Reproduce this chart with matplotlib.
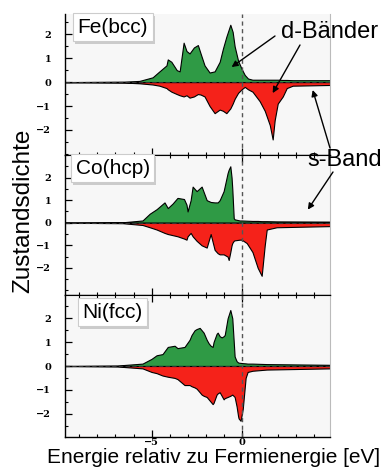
import numpy as np
import matplotlib
matplotlib.use("Agg")
import matplotlib.pyplot as plt
from matplotlib.patches import Rectangle
from matplotlib.transforms import IdentityTransform
from matplotlib.ticker import MultipleLocator

plt.rcParams['font.family'] = ['Liberation Sans', 'DejaVu Sans']

# Zustandsdichte (spin up = gruen, spin down = rot), Energie in eV
feE = [-9.8, -6.5, -5.67, -4.94, -4.56, -4.17, -4.1, -3.9, -3.6, -3.44, -3.22, -3.06, -2.89,
       -2.65, -2.43, -2.28, -2.06, -1.78, -1.5, -1.22, -1.04, -0.85, -0.63, -0.5, -0.39,
       -0.2, 0.0, 0.17, 0.35, 0.6, 1.0, 1.28, 1.56, 1.72, 1.83, 2.0, 2.28, 2.5, 2.83, 4.9]
feUp = [0.0, 0.02, 0.05, 0.2, 0.45, 0.7, 0.95, 0.85, 0.5, 0.45, 1.65, 1.3, 1.2,
        1.45, 1.55, 1.2, 0.7, 0.4, 0.45, 0.85, 1.4, 1.9, 2.4, 2.1, 1.5,
        0.9, 0.55, 0.3, 0.15, 0.1, 0.1, 0.1, 0.1, 0.1, 0.1, 0.1, 0.09, 0.09, 0.08, 0.08]
feDn = [0.0, -0.02, -0.05, -0.1, -0.15, -0.25, -0.3, -0.4, -0.5, -0.55, -0.6, -0.55, -0.65,
        -0.6, -0.5, -0.52, -0.6, -1.0, -1.3, -1.15, -1.2, -1.3, -1.1, -0.9, -0.7,
        -0.45, -0.3, -0.2, -0.3, -0.4, -0.8, -1.2, -1.8, -2.4, -1.6, -0.9, -0.6, -0.25, -0.15, -0.12]

coE = [-9.8, -6.6, -5.5, -5.1, -4.72, -4.28, -4.1, -3.83, -3.56, -3.2, -3.06, -3.0, -2.83,
       -2.72, -2.5, -2.22, -1.94, -1.72, -1.5, -1.33, -1.22, -1.0, -0.78, -0.72, -0.63,
       -0.56, -0.52, -0.44, -0.39, -0.11, 0.0, 0.28, 0.6, 0.89, 1.11, 1.28, 1.39, 1.94, 4.9]
coUp = [0.0, 0.02, 0.1, 0.4, 0.6, 0.9, 0.65, 0.85, 1.1, 1.05, 0.8, 0.5, 1.0,
        1.6, 1.4, 1.6, 1.0, 0.92, 0.9, 0.9, 1.0, 1.4, 2.2, 2.35, 2.5,
        2.0, 1.5, 0.2, 0.15, 0.1, 0.1, 0.09, 0.08, 0.08, 0.07, 0.07, 0.07, 0.06, 0.05]
coDn = [0.0, -0.02, -0.1, -0.2, -0.3, -0.45, -0.5, -0.55, -0.6, -0.7, -0.75, -0.6, -0.45,
        -0.6, -0.8, -1.0, -1.1, -0.5, -1.2, -1.35, -1.4, -1.4, -1.5, -1.65, -1.3,
        -1.0, -0.9, -0.8, -0.78, -0.75, -0.75, -0.9, -1.3, -2.0, -2.35, -1.0, -0.3, -0.2, -0.15]

niE = [-9.8, -6.9, -5.5, -5.0, -4.72, -4.39, -4.1, -3.72, -3.56, -3.17, -2.89, -2.78, -2.61,
       -2.5, -2.33, -2.22, -2.11, -1.94, -1.83, -1.72, -1.61, -1.56, -1.39, -1.33, -1.22,
       -1.11, -1.0, -0.94, -0.78, -0.63, -0.52, -0.39, -0.28, -0.2, -0.17, -0.06, 0.06,
       0.22, 0.33, 0.6, 1.39, 4.9]
niUp = [0.0, 0.02, 0.1, 0.3, 0.45, 0.5, 0.8, 0.85, 0.75, 0.8, 1.1, 1.3, 1.5,
        1.55, 1.6, 1.5, 1.4, 1.1, 0.95, 0.85, 0.8, 1.0, 1.35, 1.4, 1.25,
        1.2, 1.25, 1.3, 2.0, 2.35, 2.0, 0.4, 0.2, 0.15, 0.14, 0.13, 0.12,
        0.11, 0.1, 0.1, 0.08, 0.05]
niDn = [0.0, -0.02, -0.1, -0.25, -0.3, -0.4, -0.45, -0.5, -0.55, -0.8, -0.8, -0.85, -0.9,
        -0.95, -1.1, -1.2, -1.25, -1.3, -1.4, -1.5, -1.6, -1.55, -1.2, -1.15, -1.1,
        -1.25, -1.4, -1.35, -1.3, -1.25, -1.2, -1.3, -1.7, -2.1, -2.2, -2.3, -1.8,
        -0.5, -0.25, -0.2, -0.15, -0.1]

metals = ["Fe(bcc)", "Co(hcp)", "Ni(fcc)"]
energies = [feE, coE, niE]
spinUp = [feUp, coUp, niUp]
spinDown = [feDn, coDn, niDn]

green = '#2f9a45'
red = '#f5221a'

W, H = 383, 468
fig = plt.figure(figsize=(W/100, H/100), dpi=100)

# panel boundaries in pixels (top, bottom)
left, right = 65, 330
panels = [(14, 155), (155, 295), (295, 437)]
ylims = [(-3.05, 2.85), (-3.2, 3.0), (-2.98, 2.98)]
labelY = [0.905, 0.905, 0.88]

axs = []
nameTags = []
for i, (top, bot) in enumerate(panels):
    ax = fig.add_axes([left/W, 1 - bot/H, (right-left)/W, (bot-top)/H])
    ax.set_facecolor('#f7f7f7')
    E = np.array(energies[i])
    ax.fill_between(E, 0, spinUp[i], facecolor=green, edgecolor='black', linewidth=0.8)
    ax.fill_between(E, 0, spinDown[i], facecolor=red, edgecolor='black', linewidth=0.8)
    ax.axhline(0, color='#333333', linewidth=0.8, linestyle=(0, (4, 2)))
    ax.axvline(0, color='#555555', linewidth=1.0, linestyle=(0, (3, 2.5)))
    ax.set_xlim(-9.8, 4.9)
    ax.set_ylim(*ylims[i])
    ax.yaxis.set_minor_locator(MultipleLocator(0.5))
    ax.xaxis.set_major_locator(MultipleLocator(5))
    ax.xaxis.set_minor_locator(MultipleLocator(1))
    ax.set_yticks([-2, -1, 0, 1, 2])
    ax.tick_params(which='both', direction='in', top=True, labelsize=7)
    ax.tick_params(axis='y', pad=10)
    ax.tick_params(axis='x', pad=1)
    ax.tick_params(which='major', length=5, width=0.9)
    ax.tick_params(which='minor', length=2.5, width=0.8)
    ax.spines['right'].set_color('#bbbbbb')
    ax.spines['left'].set_linewidth(1.0)
    ax.spines['bottom'].set_linewidth(1.0)
    if i == 0:
        ax.spines['top'].set_visible(False)
        ax.tick_params(which='both', top=False)
    if i < 2:
        ax.tick_params(labelbottom=False)
    for lab in ax.get_yticklabels() + ax.get_xticklabels():
        lab.set_fontfamily('DejaVu Serif')
        lab.set_fontweight('bold')
    t = ax.text(0.18, labelY[i], metals[i], transform=ax.transAxes, fontsize=15,
                ha='center', va='center', zorder=10,
                bbox=dict(boxstyle='square,pad=0.22', facecolor='white',
                          edgecolor='#cccccc', linewidth=0.8))
    nameTags.append(t)
    axs.append(ax)

# Schatten unter den Namensschildern
fig.canvas.draw()
renderer = fig.canvas.get_renderer()
for ax, t in zip(axs, nameTags):
    bb = t.get_bbox_patch().get_window_extent(renderer)
    ax.add_patch(Rectangle((bb.x0 + 2, bb.y0 - 3), bb.width, bb.height,
                           transform=IdentityTransform(), facecolor='#8a8a8a',
                           alpha=0.4, edgecolor='none', zorder=9, clip_on=False))

fig.text(23/W, 1 - 211/H, "Zustandsdichte", rotation=90, fontsize=17.5,
         ha='center', va='center')
fig.text(214/W, 1 - 463/H, "Energie relativ zu Fermienergie [eV]", fontsize=15,
         ha='center', va='baseline')

# Beschriftungen mit Pfeilen
fig.text(330/W, 1 - 32/H, "d-Bänder", fontsize=17, ha='center', va='center')
fig.text(345/W, 1 - 160/H, "s-Band", fontsize=17, ha='center', va='center')

arrowProps = dict(arrowstyle='-|>', color='black', linewidth=1.0,
                  mutation_scale=9, shrinkA=0, shrinkB=0)
arrows = [(axs[0], (-0.56, 0.63), (275, 36)),
          (axs[0], (1.72, -0.46), (300, 45)),
          (axs[0], (3.94, -0.33), (330, 148)),
          (axs[1], (3.67, 0.58), (333, 172))]
for ax, head, tail in arrows:
    ax.annotate('', xy=head, xycoords='data',
                xytext=(tail[0], H - tail[1]), textcoords='figure pixels',
                arrowprops=arrowProps, annotation_clip=False)

plt.savefig("out.png", dpi=100)
